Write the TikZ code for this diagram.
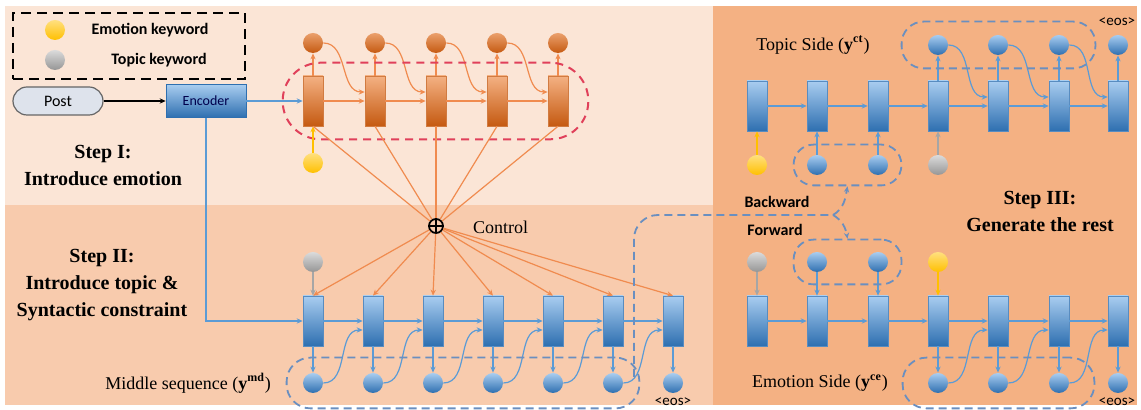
\documentclass[tikz,border=0pt]{standalone}
\usepackage{fontspec}
\setmainfont{Liberation Serif}
\newfontfamily\calibrifont{Carlito}
\usetikzlibrary{arrows.meta,fit}

\definecolor{bgtop}{HTML}{FBE5D6}
\definecolor{bgmid}{HTML}{F8CBAD}
\definecolor{bgright}{HTML}{F4B183}
\definecolor{cellblue}{HTML}{5B9BD5}
\definecolor{lightblue}{HTML}{A9CDF0}
\definecolor{darkblue}{HTML}{2E6FB0}
\definecolor{dashblue}{HTML}{6A8FC0}
\definecolor{lightorange}{HTML}{F4B183}
\definecolor{darkorange}{HTML}{C55A11}
\definecolor{lineorange}{HTML}{F08B4F}
\definecolor{keyyellow}{HTML}{FFC000}
\definecolor{keygray}{HTML}{A6A6A6}
\definecolor{postfill}{HTML}{DEE3EC}
\definecolor{dashred}{HTML}{E0405A}

\begin{document}
\begin{tikzpicture}[x=0.5pt,y=-0.5pt,
  cell/.style={rectangle,draw=#1,line width=0.3pt,minimum width=10pt,minimum height=25pt,inner sep=0pt},
  bluecell/.style={cell=darkblue!80,top color=lightblue,bottom color=darkblue},
  orangecell/.style={cell=darkorange!80,top color=lightorange,bottom color=darkorange},
  word/.style={circle,minimum size=10pt,inner sep=0pt},
  blueword/.style={word,top color=lightblue,bottom color=darkblue},
  orangeword/.style={word,top color=lightorange!80!darkorange,bottom color=darkorange},
  yellowword/.style={word,top color=keyyellow!50,bottom color=keyyellow},
  grayword/.style={word,top color=keygray!40,bottom color=keygray!90!black},
  tip/.style={-{Stealth[length=3pt,width=2.6pt]}},
  barrow/.style={draw=cellblue,line width=0.6pt,tip},
  oarrow/.style={draw=lineorange,line width=0.6pt,tip},
  oline/.style={draw=lineorange,line width=0.6pt},
  yarrow/.style={draw=keyyellow,line width=0.6pt,tip},
  garrow/.style={draw=keygray,line width=0.6pt,tip},
  bluedash/.style={draw=dashblue,line width=0.9pt,dash pattern=on 4pt off 2.5pt},
  reddash/.style={draw=dashred,line width=1pt,dash pattern=on 4pt off 3pt},
  keytext/.style={font=\calibrifont\bfseries\fontsize{8}{9}\selectfont},
  steptext/.style={font=\bfseries\fontsize{10}{13.5}\selectfont,align=center},
  seqtext/.style={font=\fontsize{9}{10}\selectfont},
  eostext/.style={font=\calibrifont\fontsize{7.5}{8}\selectfont,inner sep=0pt}]
\useasboundingbox (0,0) rectangle (1141,410);

% panels
\fill[bgtop] (5,6) rectangle (713,205);
\fill[bgmid] (5,205) rectangle (713,405);
\fill[bgright] (713,6) rectangle (1137,405);

% legend
\node[draw,line width=0.9pt,dash pattern=on 5pt off 3pt,minimum width=116pt,minimum height=33pt] (legend) at (129,46) {};
\node[yellowword] (lgemo) at (55,30) {};
\node[grayword] (lgtop) at (55,60) {};
\node[keytext] at (150,30) {Emotion keyword};
\node[keytext] at (159,60) {Topic keyword};

% post and encoder
\node[draw=gray!80!black,line width=0.6pt,rounded corners=7pt,fill=postfill,minimum width=45pt,minimum height=14pt,font=\calibrifont\fontsize{8}{9}\selectfont] (post) at (58,101) {Post};
\node[draw=darkblue,line width=0.3pt,top color=lightblue,bottom color=darkblue,minimum width=40pt,minimum height=16.5pt,font=\calibrifont\fontsize{7}{8}\selectfont,text=blue!30!black] (enc) at (206,101) {Encoder};
\draw[line width=0.6pt,tip] (post) -- (enc);

% step I: emotion
\foreach \i/\x in {1/313,2/375,3/436,4/497,5/558}{
  \node[orangecell] (o\i) at (\x,101) {};
  \node[orangeword] (oc\i) at (\x,43) {};
  \draw[oarrow] (o\i.north) -- (oc\i.south);
}
\foreach \i in {1,...,4}{
  \pgfmathtruncatemacro\j{\i+1}
  \draw[oarrow] (o\i) -- (o\j);
  \draw[oarrow] (oc\i.east) to[out=0,in=180] ([yshift=4.5pt]o\j.west);
}
\node[reddash,fit=(o1)(o5),inner xsep=10pt,inner ysep=6.5pt,rounded corners=19pt] (embox) {};
\node[yellowword] (oy) at (313,163) {};
\draw[yarrow] (oy) -- (o1);
\draw[barrow] (enc) -- (o1);

% control
\node[circle,draw,line width=0.9pt,minimum size=7pt,inner sep=0pt,
  path picture={\draw[line width=0.8pt] (path picture bounding box.north) -- (path picture bounding box.south)
  (path picture bounding box.west) -- (path picture bounding box.east);}] (ctrl) at (436,226) {};
\node[seqtext,anchor=west] at (466,227) {Control};
\foreach \i in {1,...,5}
  \draw[oline] (o\i.south) -- (ctrl);

% step II: middle sequence
\foreach \i in {1,...,7}{
  \pgfmathsetmacro\x{313+60*(\i-1)}
  \node[bluecell] (m\i) at (\x,321) {};
  \node[blueword] (mc\i) at (\x,383) {};
  \draw[barrow] (m\i) -- (mc\i);
  \draw[oarrow] (ctrl) -- (m\i.north);
}
\foreach \i in {1,...,6}{
  \pgfmathtruncatemacro\j{\i+1}
  \draw[barrow] (m\i) -- (m\j);
  \draw[barrow] (mc\i.east) to[out=0,in=180] ([yshift=-4.5pt]m\j.west);
}
\node[grayword] (mg) at (313,262) {};
\draw[garrow] (mg) -- (m1);
\draw[barrow] (enc.south) |- (m1);
\node[bluedash,fit=(mc1)(mc6),inner xsep=8pt,inner ysep=7.5pt,rounded corners=12pt] (mdbox) {};
\node[eostext] at (673,402) {<eos>};

% step III: both sides
\foreach \i/\x in {1/757,2/817,3/878,4/938,5/998,6/1059,7/1118}{
  \node[bluecell] (t\i) at (\x,106) {};
  \node[bluecell] (e\i) at (\x,321) {};
}
\foreach \i in {1,...,6}{
  \pgfmathtruncatemacro\j{\i+1}
  \draw[barrow] (t\i) -- (t\j);
  \draw[barrow] (e\i) -- (e\j);
}
\foreach \i/\x in {4/938,5/998,6/1059,7/1118}{
  \node[blueword] (tc\i) at (\x,45) {};
  \node[blueword] (ec\i) at (\x,383) {};
  \draw[barrow] (t\i) -- (tc\i);
  \draw[barrow] (e\i) -- (ec\i);
}
\foreach \i in {4,5,6}{
  \pgfmathtruncatemacro\j{\i+1}
  \draw[barrow] (tc\i.east) to[out=0,in=180] ([yshift=4.5pt]t\j.west);
  \draw[barrow] (ec\i.east) to[out=0,in=180] ([yshift=-4.5pt]e\j.west);
}
% keywords and copied words
\node[yellowword] (ty) at (757,165) {};
\node[blueword] (b2) at (817,165) {};
\node[blueword] (b3) at (878,165) {};
\node[grayword] (tg) at (938,165) {};
\draw[yarrow] (ty) -- (t1);
\draw[barrow] (b2) -- (t2);
\draw[barrow] (b3) -- (t3);
\draw[garrow] (tg) -- (t4);
\node[grayword] (eg) at (757,262) {};
\node[blueword] (f2) at (817,262) {};
\node[blueword] (f3) at (878,262) {};
\node[yellowword] (ey) at (938,262) {};
\draw[garrow] (eg) -- (e1);
\draw[barrow] (f2) -- (e2);
\draw[barrow] (f3) -- (e3);
\draw[yarrow] (ey) -- (e4);

\node[bluedash,fit=(tc4)(tc6),inner xsep=13pt,inner ysep=6.5pt,rounded corners=11pt] (ctbox) {};
\node[bluedash,fit=(ec4)(ec6),inner xsep=12.5pt,inner ysep=7.5pt,rounded corners=12pt] (cebox) {};
\node[bluedash,fit=(b2)(b3),inner xsep=6.5pt,inner ysep=5pt,rounded corners=10pt] (bwbox) {};
\node[bluedash,fit=(f2)(f3),inner xsep=6.5pt,inner ysep=6pt,rounded corners=10pt] (fwbox) {};

% copy middle sequence both ways
\coordinate (mdout) at (634,377);
\coordinate (split) at (833,215);
\draw[bluedash,rounded corners=12pt] (mdout) |- (split);
\draw[bluedash,tip] (split) to[out=30,in=-100] (bwbox.south);
\draw[bluedash,tip] (split) to[out=-30,in=100] (fwbox.north);
\node[keytext] at (777,202) {Backward};
\node[keytext] at (775,230) {Forward};

% labels
\node[steptext] at (103,166) {Step I:\\Introduce emotion};
\node[steptext] at (102,285) {Step II:\\Introduce topic \&\\Syntactic constraint};
\node[steptext] at (1040,211) {Step III:\\Generate the rest};
\node[seqtext,anchor=east] at (278,383) {Middle sequence (\textbf{y}\textsuperscript{\textbf{md}})};
\node[seqtext] at (813,45) {Topic Side (\textbf{y}\textsuperscript{\textbf{ct}})};
\node[seqtext] at (820,383) {Emotion Side (\textbf{y}\textsuperscript{\textbf{ce}})};
\node[eostext] at (1117,22) {<eos>};
\node[eostext] at (1117,402) {<eos>};
\end{tikzpicture}
\end{document}
